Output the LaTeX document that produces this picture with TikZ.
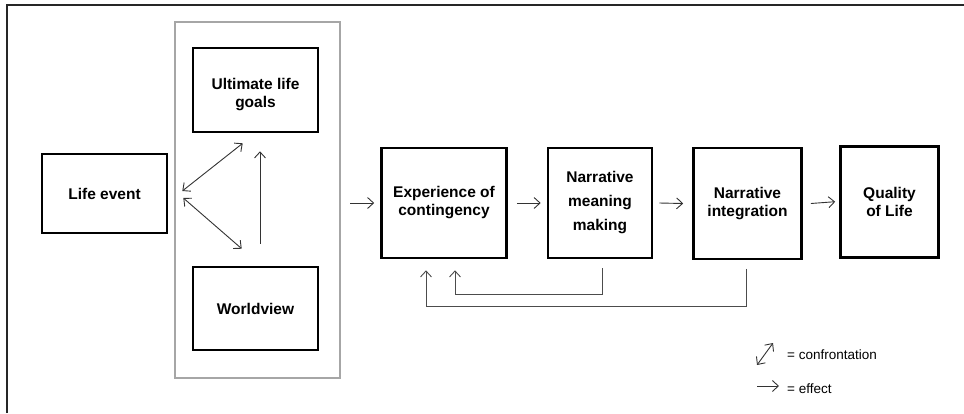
\documentclass[tikz,border=0pt]{standalone}
\usepackage{fontspec}
\setmainfont{Liberation Sans}
\usetikzlibrary{arrows.meta}
\begin{document}
\begin{tikzpicture}[x=1pt,y=-1pt,
  box/.style={draw=black,line width=2.6pt,align=center,inner sep=0pt,
    font=\bfseries\fontsize{15.5}{18}\selectfont},
  eff/.style={draw=black!80,line width=0.9pt,-{Straight Barb[length=6pt,width=11pt]}},
  conf/.style={draw=black!80,line width=0.9pt,{Straight Barb[length=6pt,width=11pt]}-{Straight Barb[length=6pt,width=11pt]}},
  fb/.style={draw=black!70,line width=0.9pt,-{Straight Barb[length=6pt,width=11pt]}},
  leg/.style={font=\fontsize{13.5}{15}\selectfont,anchor=west,inner sep=0pt}]
\useasboundingbox (0,0) rectangle (964,413);
% outer frame
\draw[line width=1.6pt,black!85] (7,413) -- (7,5) -- (964,5);
% group box
\node[draw=black!35,line width=2pt,minimum width=165pt,minimum height=356pt,inner sep=0pt] (grp) at (257.5,200) {};
% nodes
\node[box,minimum width=125pt,minimum height=79pt] (life) at (104.5,193.5) {Life event};
\node[box,minimum width=125pt,minimum height=84pt] (ulg) at (255.5,90) {\rule{0pt}{21pt}Ultimate life\\goals};
\node[box,minimum width=125pt,minimum height=83pt] (wv) at (255.5,308.5) {Worldview};
\node[box,minimum width=125pt,minimum height=110pt] (exp) at (444,203) {Experience of\\contingency};
\node[box,minimum width=104pt,minimum height=110pt] (nmm) at (600,203) {Narrative\\[6pt]meaning\\[6pt]making};
\node[box,minimum width=108pt,minimum height=111pt] (ni) at (747.5,203.5) {Narrative\\integration};
\node[box,minimum width=98pt,minimum height=111pt] (qol) at (889.5,201.7) {Quality\\of Life};
% confrontation / effect within group
\coordinate (c1a) at ([xshift=14pt,yshift=2.5pt]life.east);
\coordinate (c1b) at ([xshift=51pt,yshift=-10pt]ulg.south west);
\coordinate (c2a) at ([xshift=15pt,yshift=-4.5pt]life.east);
\coordinate (c2b) at ([xshift=50pt,yshift=17pt]wv.north west);
\draw[conf] (c1a) -- (c1b);
\draw[conf] (c2a) -- (c2b);
\coordinate (v1) at ([xshift=4.5pt,yshift=22pt]wv.north);
\coordinate (v2) at ([xshift=4.5pt,yshift=-18pt]ulg.south);
\draw[eff] (v1) -- (v2);
% main chain
\coordinate (g1) at ([xshift=9pt]grp.east |- exp.west);
\draw[eff] (g1) -- ([xshift=-6pt]exp.west);
\draw[eff] ([xshift=9pt]exp.east) -- ([xshift=-6pt]nmm.west);
\draw[eff] ([xshift=6pt]nmm.east) -- ([xshift=-9pt]ni.west);
\draw[eff] ([xshift=8pt]ni.east) -- ([xshift=-4pt]qol.west);
% feedback loops
\draw[fb] ([xshift=2pt,yshift=-9pt]nmm.south) -- ++(0,25.7) -| ([xshift=11pt,yshift=-11pt]exp.south);
\draw[fb] ([xshift=-1.5pt,yshift=-8.5pt]ni.south) -- ++(0,38) -| ([xshift=-18pt,yshift=-11pt]exp.south);
% legend
\coordinate (l1a) at (757,365);
\coordinate (l1b) at (773,343);
\draw[conf] (l1a) -- (l1b);
\node[leg] (lt1) at (787,355) {= confrontation};
\coordinate (l2a) at (757,386);
\coordinate (l2b) at (779,386);
\draw[eff] (l2a) -- (l2b);
\node[leg] (lt2) at (787,388.5) {= effect};
\end{tikzpicture}
\end{document}
